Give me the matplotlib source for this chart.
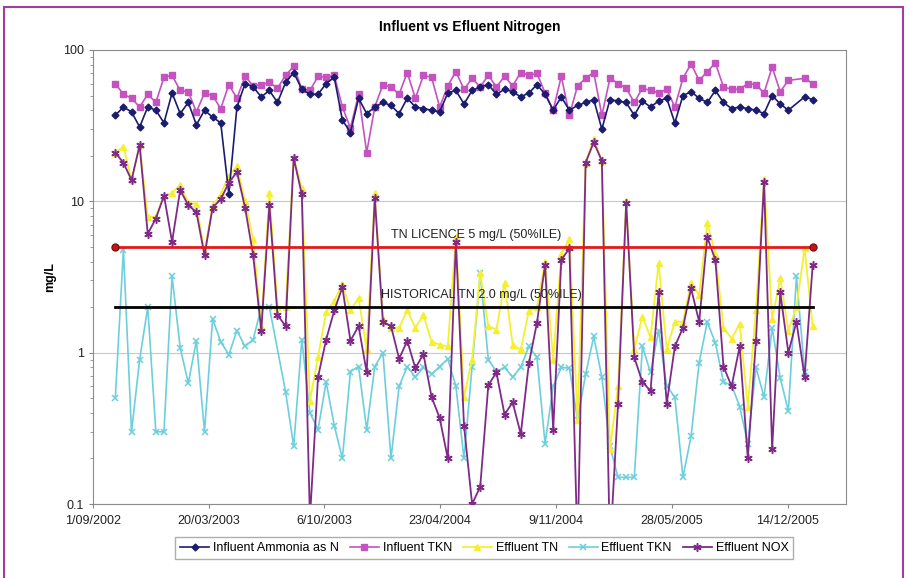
import numpy as np
import pandas as pd
import matplotlib
matplotlib.use("Agg")
import matplotlib.pyplot as plt
from matplotlib.patches import Rectangle

plt.rcParams['font.family'] = ['Liberation Sans', 'DejaVu Sans']

nan = np.nan
# fortnightly sampling dates
dates = pd.date_range("2002-10-10", periods=87, freq="14D")

inf_nh3 = [37, 42, 39, 31, 42, 40, 33, 52, 38, 45,
           32, 40, 36, 33, 11.2, 42, 60, 57, 49, 54,
           45, 61, 71, 55, 51, 51, 60, 66, 34.5, 28.5,
           48, 38, 42, 45, 43, 38, 48, 42, 41, 40,
           39, 52, 54, 44, 54, 57, 59, 51, 55, 53,
           49, 52, 59, 51, 40, 49, 40, 43, 45, 47,
           30, 47, 46, 45, 37, 46, 42, 46, 48, 33,
           50, 53, 48, 45, 54, 45, 41, 42, 41, 40,
           38, 50, 44, 40, nan, 49, 47]

inf_tkn = [60, 51, 48, 42, 51, 45, 66, 68, 54, 53,
           39, 52, 50, 41, 59, 48, 67, 58, 59, 61,
           56, 68, 78, 55, 54, 67, 66, 68, 42, 30.5,
           51, 21, 42, 59, 57, 51, 71, 48, 68, 66,
           42, 58, 72, 55, 65, 57, 68, 57, 67, 58,
           71, 68, 70, 52, 40, 67, 37, 58, 65, 71,
           37, 65, 60, 56, 45, 56, 54, 52, 55, 42,
           65, 81, 63, 72, 82, 57, 55, 55, 60, 59,
           52, 77, 53, 63, nan, 65, 60]

eff_tn = [21, 23, 13.8, 23.5, 7.9, 7.9, 10.9, 11.3, 12.9, 9.8,
          9.6, 4.6, 9.4, 11.1, 14.8, 17.1, 10, 5.6, 1.5, 11.3,
          2.0, 2.0, 19.5, 12.2, 0.48, 0.94, 1.85, 2.2, 2.85, 1.9,
          2.3, 1.05, 11.3, 1.66, 1.46, 1.46, 1.91, 1.46, 1.78, 1.18,
          1.13, 1.1, 5.8, 0.51, 0.9, 3.35, 1.5, 1.42, 2.9, 1.13,
          1.05, 1.88, 2.0, 4.0, 0.9, 4.5, 5.6, 0.36, 18, 26,
          18.5, 0.23, 0.6, 10, 1.05, 1.73, 1.26, 3.9, 1.05, 1.6,
          1.6, 2.9, 2.4, 7.2, 4.5, 1.46, 1.24, 1.55, 0.44, 1.9,
          14, 1.66, 3.1, 1.4, 2.0, 4.9, 1.5]

eff_tkn = [0.5, 4.8, 0.3, 0.9, 2.0, 0.3, 0.3, 3.2, 1.08, 0.63,
           1.2, 0.3, 1.67, 1.18, 0.97, 1.4, 1.1, 1.22, 2.0, 2.0,
           nan, 0.55, 0.24, 1.22, 0.4, 0.31, 0.64, 0.33, 0.2, 0.75,
           0.81, 0.31, 0.81, 1.0, 0.2, 0.6, 0.81, 0.69, 0.8, 0.72,
           0.81, 0.91, 0.6, 0.2, 0.81, 3.35, 0.9, 0.75, 0.8, 0.69,
           0.8, 1.1, 0.93, 0.25, 0.6, 0.8, 0.79, 0.36, 0.72, 1.28,
           0.69, 0.24, 0.15, 0.15, 0.15, 1.1, 0.74, 1.4, 0.6, 0.51,
           0.15, 0.28, 0.86, 1.6, 1.16, 0.64, 0.61, 0.44, 0.25, 0.8,
           0.51, 1.46, 0.68, 0.41, 3.2, 0.75, nan]

eff_nox = [21, 18, 13.8, 23.5, 6.1, 7.7, 10.9, 5.4, 11.9, 9.4,
           8.5, 4.4, 9.1, 10.3, 13.3, 15.6, 9.1, 4.4, 1.4, 9.4,
           1.77, 1.5, 19.3, 11.1, 0.08, 0.69, 1.22, 1.9, 2.7, 1.2,
           1.5, 0.74, 10.5, 1.6, 1.5, 0.91, 1.2, 0.79, 0.98, 0.51,
           0.37, 0.2, 5.4, 0.33, 0.1, 0.13, 0.61, 0.74, 0.39, 0.47,
           0.29, 0.85, 1.58, 3.8, 0.31, 4.1, 4.9, 0.05, 18, 24.6,
           18.5, 0.05, 0.46, 9.8, 0.93, 0.64, 0.56, 2.5, 0.46, 1.1,
           1.46, 2.66, 1.6, 5.8, 4.1, 0.81, 0.6, 1.1, 0.2, 1.2,
           13.5, 0.23, 2.5, 1.0, 1.6, 0.69, 3.8]

licence_tn = 5.0
historical_tn = 2.0
tick_dates = ["2002-09-01", "2003-03-20", "2003-10-06", "2004-04-23",
              "2004-11-09", "2005-05-28", "2005-12-14"]

fig = plt.figure(figsize=(9.09, 5.78), dpi=100)
ax = fig.add_axes([0.102, 0.128, 0.829, 0.7855])

def draw(vals, **kw):
    s = pd.Series(vals, index=dates).dropna()
    ax.plot(s.index, s.values, **kw)

draw(eff_tkn, color="#6ccfdc", lw=1.2, marker="x", ms=4.5, mew=1.1,
     label="Effluent TKN", zorder=3)
draw(eff_tn, color="#f4f030", lw=1.3, marker="^", ms=4.5,
     label="Effluent TN", zorder=4)
draw(eff_nox, color="#7e2a86", lw=1.3, marker=(6, 2, 0), ms=6, mew=1.1,
     label="Effluent NOX", zorder=5)
draw(inf_tkn, color="#c453c0", lw=1.2, marker="s", ms=4.5,
     label="Influent TKN", zorder=3)
draw(inf_nh3, color="#1c1c6e", lw=1.2, marker="D", ms=3.5,
     label="Influent Ammonia as N", zorder=4)

ax.plot([dates[0], dates[-1]], [licence_tn, licence_tn], color="#e3191c",
        lw=2, marker="o", ms=5, mfc="#d01010", mec="#801010", zorder=6)
ax.plot([dates[0], dates[-1]], [historical_tn, historical_tn], color="black",
        lw=2, zorder=6)
ax.text(pd.Timestamp("2004-06-24"), 5.5, "TN LICENCE 5 mg/L (50%ILE)",
        ha="center", va="bottom", fontsize=9, color="#222222", zorder=7)
ax.text(pd.Timestamp("2004-07-03"), 2.2, "HISTORICAL TN 2.0 mg/L (50%ILE)",
        ha="center", va="bottom", fontsize=9, color="#222222", zorder=7)

ax.set_yscale("log")
ax.set_ylim(0.1, 100)
ax.set_yticks([0.1, 1, 10, 100])
ax.set_yticklabels(["0.1", "1", "10", "100"])
ax.set_xlim(pd.Timestamp("2002-09-01"), pd.Timestamp("2006-03-25"))
tk = pd.to_datetime(tick_dates)
ax.set_xticks(tk)
ax.set_xticklabels([f"{d.day}/{d.month:02d}/{d.year}" for d in tk])
ax.tick_params(labelsize=9, colors="#222222", length=3, color="#888888")
ax.tick_params(axis="x", pad=5)
ax.tick_params(axis="y", which="minor", length=2, color="#888888")
ax.grid(axis="y", which="major", color="#c8c8c8", lw=0.8)
for sp in ax.spines.values():
    sp.set_color("#8c8c8c")
ax.set_ylabel("mg/L", fontsize=9, fontweight="bold", labelpad=5)
ax.set_title("Influent vs Efluent Nitrogen", fontsize=10, fontweight="bold", pad=14)

handles, labels = ax.get_legend_handles_labels()
order = ["Influent Ammonia as N", "Influent TKN", "Effluent TN", "Effluent TKN", "Effluent NOX"]
hmap = dict(zip(labels, handles))
fig.legend([hmap[o] for o in order], order, loc="center", ncol=5,
           bbox_to_anchor=(0.533, 0.052), fontsize=9, frameon=True,
           fancybox=False, edgecolor="#999999", handlelength=2.3,
           handletextpad=0.3, columnspacing=0.9, borderpad=0.4)

fig.patches.append(Rectangle((0.0044, -0.02), 0.989, 1.008, transform=fig.transFigure,
                             fill=False, edgecolor="#a23c9e", lw=1.5))
fig.savefig("out.png", dpi=100)
